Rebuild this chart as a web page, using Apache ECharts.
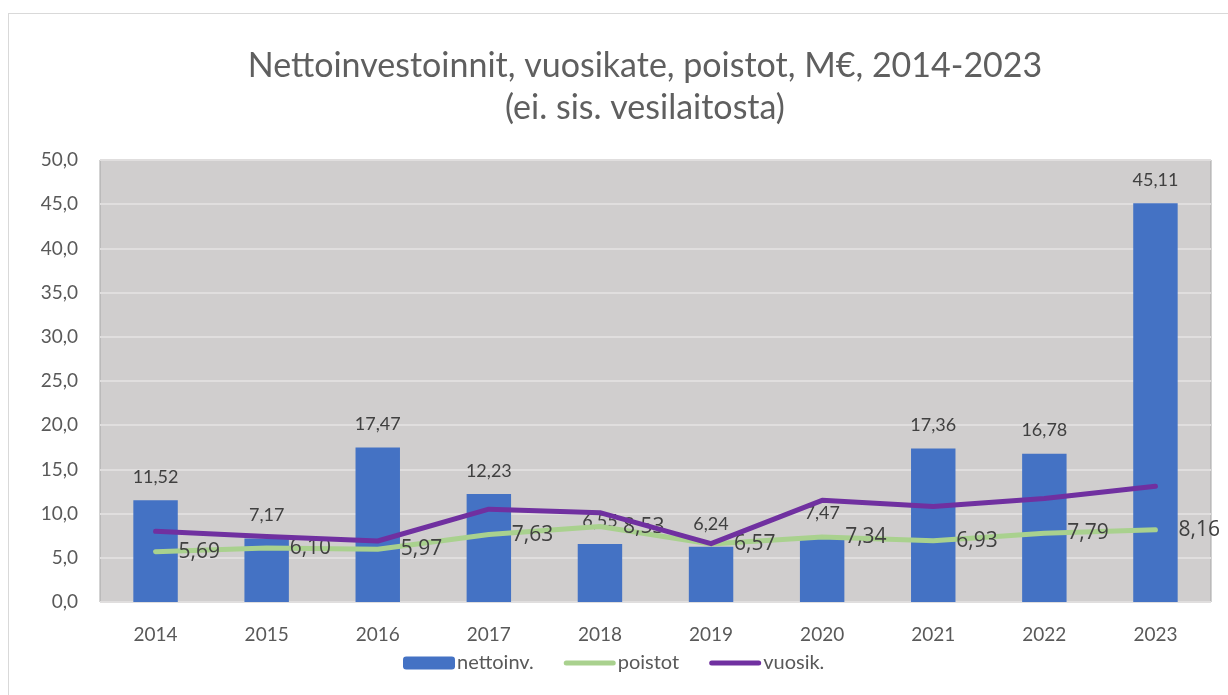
<!DOCTYPE html>
<html>
<head>
<meta charset="utf-8">
<script src="https://cdn.jsdelivr.net/npm/echarts@6/dist/echarts.min.js"></script>
<style>
  html, body { margin: 0; padding: 0; background: #fff; }
  #frame { position: absolute; left: 8px; top: 13px; width: 1240px; height: 700px; border: 1px solid #d9d9d9; box-sizing: border-box; }
  #chart { position: absolute; left: 0; top: 0; width: 1228px; height: 695px; }
</style>
</head>
<body>
<div id="frame"></div>
<div id="chart"></div>
<script>
// vuodet
const years = ['2014', '2015', '2016', '2017', '2018', '2019', '2020', '2021', '2022', '2023']
// M€
const nettoinv = [11.52, 7.17, 17.47, 12.23, 6.55, 6.24, 7.47, 17.36, 16.78, 45.11]
const poistot = [5.69, 6.10, 5.97, 7.63, 8.53, 6.57, 7.34, 6.93, 7.79, 8.16]
const vuosik = [8.0, 7.4, 6.9, 10.5, 10.1, 6.6, 11.5, 10.8, 11.7, 13.1]

const fi = (v, d) => v.toFixed(d).replace('.', ',')
const font = 'Lato, "Open Sans", sans-serif'
const lineIcon = 'path://M2.5,0H49.5A2.5,2.5,0,0,1,49.5,5H2.5A2.5,2.5,0,0,1,2.5,0Z'

const chart = echarts.init(document.getElementById('chart'))
chart.setOption({
  backgroundColor: 'transparent',
  animation: false,
  title: {
    text: 'Nettoinvestoinnit, vuosikate, poistot, M€, 2014-2023\n(ei. sis. vesilaitosta)',
    left: 640,
    textAlign: 'center',
    top: 40,
    textStyle: { fontFamily: font, fontWeight: 'normal', fontSize: 34, color: '#5f5f5f', lineHeight: 42 }
  },
  legend: {
    top: 653,
    left: 403,
    padding: 0,
    itemWidth: 52,
    itemHeight: 13,
    itemGap: 30,
    textStyle: { fontFamily: font, fontSize: 20, color: '#595959', padding: [0, 0, 0, -3] },
    data: [
      { name: 'nettoinv.' },
      { name: 'poistot', icon: lineIcon },
      { name: 'vuosik.', icon: lineIcon }
    ]
  },
  grid: { left: 100, right: 17, top: 160, bottom: 93, show: true, backgroundColor: '#d0cece', borderColor: '#a6a6a6', borderWidth: 1 },
  xAxis: {
    type: 'category',
    data: years,
    axisLine: { show: false },
    axisTick: { show: false },
    axisLabel: { fontFamily: font, fontSize: 19, color: '#595959', margin: 23 }
  },
  yAxis: {
    type: 'value',
    min: 0,
    max: 50,
    interval: 5,
    axisLine: { show: false },
    axisTick: { show: false },
    splitLine: { lineStyle: { color: '#e0dede', width: 2 } },
    axisLabel: { fontFamily: font, fontSize: 19, color: '#595959', margin: 22, formatter: v => fi(v, 1) }
  },
  series: [
    {
      name: 'nettoinv.',
      type: 'bar',
      data: nettoinv,
      barWidth: '40%',
      itemStyle: { color: '#4472c4' },
      label: { show: true, position: 'top', distance: 14, fontFamily: font, fontSize: 18, color: '#404040', formatter: p => fi(p.value, 2) }
    },
    {
      name: 'poistot',
      type: 'line',
      data: poistot,
      symbol: 'circle',
      symbolSize: 2,
      showSymbol: true,
      lineStyle: { color: '#a9d18e', width: 5, cap: 'round', join: 'round' },
      itemStyle: { color: '#a9d18e' },
      label: { show: true, position: 'right', distance: 22, fontFamily: '"Open Sans", sans-serif', fontSize: 21, color: '#404040', formatter: p => fi(p.value, 2) },
      z: 3
    },
    {
      name: 'vuosik.',
      type: 'line',
      data: vuosik,
      symbol: 'none',
      lineStyle: { color: '#7030a0', width: 5, cap: 'round', join: 'round' },
      itemStyle: { color: '#7030a0' },
      z: 4
    }
  ]
})
</script>
</body>
</html>
